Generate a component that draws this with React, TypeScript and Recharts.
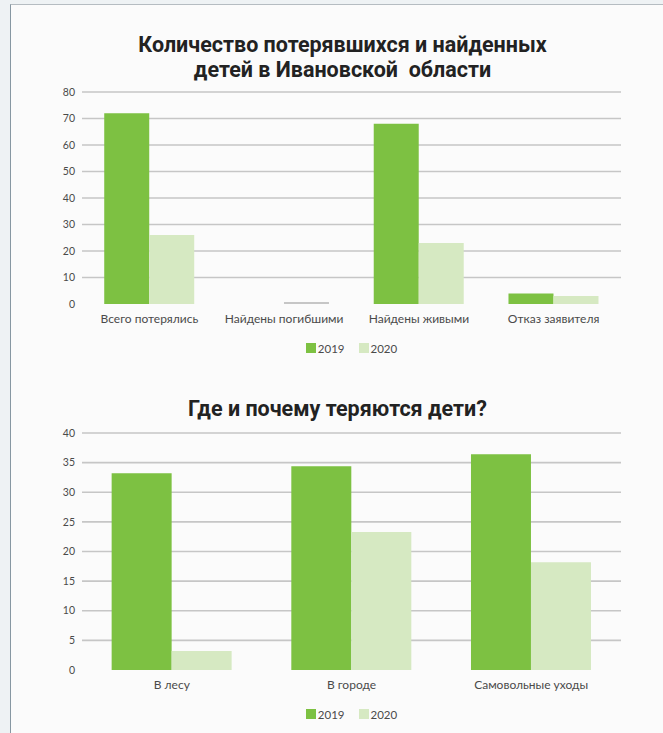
import React from "react";
import { BarChart, Bar, Cell, XAxis, YAxis, CartesianGrid, Legend } from "recharts";

// first chart: lost & found children
const lostCategories = ["Всего потерялись", "Найдены погибшими", "Найдены живыми", "Отказ заявителя"];
const lost2019 = [72, 0, 68, 4];
const lost2020 = [26, 0.8, 23, 3];
const lostTicks = [0, 10, 20, 30, 40, 50, 60, 70, 80];

// second chart: where and why
const whereCategories = ["В лесу", "В городе", "Самовольные уходы"];
const where2019 = [33.2, 34.4, 36.4];
const where2020 = [3.2, 23.3, 18.2];
const whereTicks = [0, 5, 10, 15, 20, 25, 30, 35, 40];

const seriesNames = ["2019", "2020"];

const GREEN = "#7dc142";
const LIGHT = "#d6e9c2";
const GRID = "#c6c6c6";
const TEXT = "#4a4a4a";
const FONT = "Lato, 'Open Sans', sans-serif";

const lostData = lostCategories.map((name, i) => ({ name, y2019: lost2019[i], y2020: lost2020[i] }));
const whereData = whereCategories.map((name, i) => ({ name, y2019: where2019[i], y2020: where2020[i] }));

function gridGen(ticks: number[]) {
  return (props: any) => {
    const { yAxis, offset } = props;
    const max = ticks[ticks.length - 1];
    return ticks
      .filter((t) => t > 0)
      .map((t) =>
        yAxis && typeof yAxis.scale === "function"
          ? yAxis.scale(t)
          : offset.top + offset.height * (1 - t / max)
      );
  };
}

const LegendContent = () => (
  <div style={{ display: "flex", justifyContent: "center", alignItems: "center", height: 22, fontFamily: FONT, fontSize: 11.5, color: TEXT }}>
    {seriesNames.map((s, i) => (
      <div key={s} style={{ display: "flex", alignItems: "center", marginRight: i === 0 ? 14 : 0 }}>
        <div style={{ width: 10, height: 10, background: i === 0 ? GREEN : LIGHT, marginRight: 2 }} />
        <span>{s}</span>
      </div>
    ))}
  </div>
);

const titleStyle: React.CSSProperties = {
  position: "absolute",
  width: 663,
  textAlign: "center",
  fontFamily: "Roboto, sans-serif",
  fontWeight: 700,
  fontSize: 21.5,
  color: "#222",
  lineHeight: "25px",
};

export default function App() {
  return (
    <div style={{ position: "fixed", left: 0, top: 0, width: 663, height: 733, background: "#eef2f4", overflow: "hidden" }}>
      <div style={{ position: "absolute", left: 10, top: 4, width: 700, height: 760, background: "#fbfbfb", borderLeft: "1px solid #8797a2", borderTop: "1px solid #b5bcc1" }} />

      <div style={{ ...titleStyle, top: 32, left: 11 }}>
        Количество потерявшихся и найденных
        <br />
        детей в Ивановской&nbsp; области
      </div>
      <div style={{ ...titleStyle, top: 396, left: 6 }}>Где и почему теряются дети?</div>

      <div style={{ position: "absolute", left: 0, top: 0 }}>
        <BarChart width={663} height={359} data={lostData} margin={{ top: 92, right: 42, left: 0, bottom: 0 }} barCategoryGap="16.5%" barGap={0}>
          <CartesianGrid vertical={false} stroke={GRID} strokeWidth={1.6} horizontalCoordinatesGenerator={gridGen(lostTicks)} />
          <XAxis dataKey="name" axisLine={false} tickLine={false} tickSize={0} tickMargin={10} height={33} tick={{ fill: TEXT, fontSize: 12, fontFamily: FONT }} interval={0} />
          <YAxis width={82} domain={[0, 80]} ticks={lostTicks} axisLine={false} tickLine={false} tickSize={0} tickMargin={7} tick={{ fill: TEXT, fontSize: 10.5, fontFamily: FONT }} />
          <Legend content={<LegendContent />} wrapperStyle={{ left: 82, width: 539 }} />
          <Bar dataKey="y2019" name="2019" fill={GREEN} isAnimationActive={false} />
          <Bar dataKey="y2020" name="2020" fill={LIGHT} isAnimationActive={false}>
            {lostData.map((d, i) => (
              <Cell key={i} fill={d.y2020 < 1 ? "#c6c6c6" : LIGHT} />
            ))}
          </Bar>
        </BarChart>
      </div>

      <div style={{ position: "absolute", left: 0, top: 380 }}>
        <BarChart width={663} height={345} data={whereData} margin={{ top: 53, right: 42, left: 0, bottom: 0 }} barCategoryGap="16.5%" barGap={0}>
          <CartesianGrid vertical={false} stroke={GRID} strokeWidth={1.6} horizontalCoordinatesGenerator={gridGen(whereTicks)} />
          <XAxis dataKey="name" axisLine={false} tickLine={false} tickSize={0} tickMargin={10} height={33} tick={{ fill: TEXT, fontSize: 12, fontFamily: FONT }} interval={0} />
          <YAxis width={82} domain={[0, 40]} ticks={whereTicks} axisLine={false} tickLine={false} tickSize={0} tickMargin={7} tick={{ fill: TEXT, fontSize: 10.5, fontFamily: FONT }} />
          <Legend content={<LegendContent />} wrapperStyle={{ left: 82, width: 539 }} />
          <Bar dataKey="y2019" name="2019" fill={GREEN} isAnimationActive={false} />
          <Bar dataKey="y2020" name="2020" fill={LIGHT} isAnimationActive={false} />
        </BarChart>
      </div>
    </div>
  );
}
